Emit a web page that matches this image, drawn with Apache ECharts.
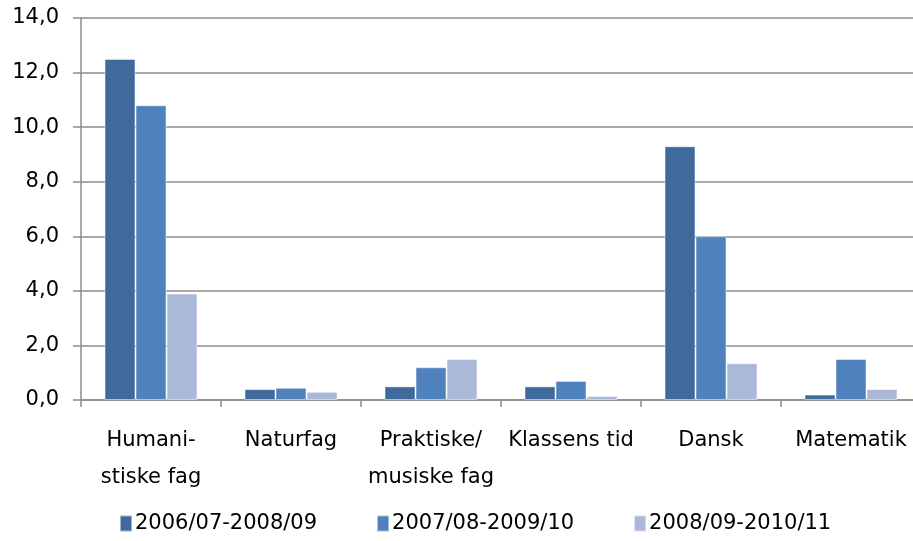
<!DOCTYPE html>
<html>
<head>
<meta charset="utf-8">
<script src="https://cdn.jsdelivr.net/npm/echarts@6/dist/echarts.min.js"></script>
<style>
  html, body { margin: 0; padding: 0; background: #fff; overflow: hidden; }
  #chart { width: 925px; height: 541px; }
</style>
</head>
<body>
<div id="chart"></div>
<script>
var categories = ["Humani-\nstiske fag", "Naturfag", "Praktiske/\nmusiske fag", "Klassens tid", "Dansk", "Matematik"];
var seriesNames = ["2006/07-2008/09", "2007/08-2009/10", "2008/09-2010/11"];
var values0607 = [12.5, 0.4, 0.5, 0.5, 9.3, 0.2];
var values0708 = [10.8, 0.45, 1.2, 0.7, 6.0, 1.5];
var values0809 = [3.9, 0.3, 1.5, 0.15, 1.35, 0.4];
var colors = ["#3F6A9B", "#4F81BD", "#AAB9D8"];

var font = "'DejaVu Sans', sans-serif";
var myChart = echarts.init(document.getElementById("chart"));

var allValues = [values0607, values0708, values0809];
var series = seriesNames.map(function (name, i) {
  return {
    name: name,
    type: "bar",
    barWidth: 31,
    barGap: "0%",
    itemStyle: {
      color: colors[i],
      borderColor: "rgba(255,255,255,0.5)",
      borderWidth: 1
    },
    data: allValues[i]
  };
});

var option = {
  animation: false,
  color: colors,
  legend: {
    left: 114,
    top: 508,
    itemWidth: 12,
    itemHeight: 16,
    itemGap: 59,
    icon: "rect",
    textStyle: { fontFamily: font, fontSize: 21, color: "#000", padding: [0, 0, 0, -2] },
    data: seriesNames
  },
  grid: {
    left: 81,
    top: 18,
    width: 840,
    height: 382
  },
  xAxis: {
    type: "category",
    data: categories,
    axisLine: { lineStyle: { color: "#8c8c8c", width: 1.5 } },
    axisTick: { show: true, length: 7, lineStyle: { color: "#8c8c8c", width: 1.5 } },
    axisLabel: {
      fontFamily: font,
      fontSize: 21,
      color: "#000",
      margin: 22,
      lineHeight: 37,
      verticalAlign: "top",
      interval: 0
    }
  },
  yAxis: {
    type: "value",
    min: 0,
    max: 14,
    interval: 2,
    axisLine: { show: true, lineStyle: { color: "#8c8c8c", width: 1.5 } },
    axisTick: { show: true, length: 8, lineStyle: { color: "#8c8c8c", width: 1.5 } },
    splitLine: { lineStyle: { color: "#8c8c8c", width: 1.5 } },
    axisLabel: {
      fontFamily: font,
      fontSize: 21,
      color: "#000",
      margin: 22,
      formatter: function (v) { return v.toFixed(1).replace(".", ","); }
    }
  },
  series: series
};

myChart.setOption(option);
</script>
</body>
</html>
